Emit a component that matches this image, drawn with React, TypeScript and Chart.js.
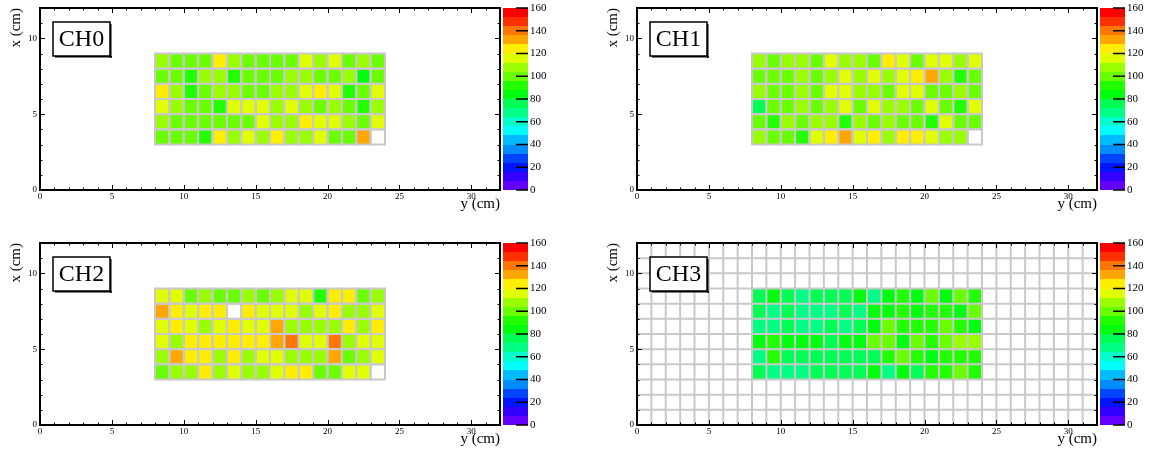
import React, { useEffect, useRef } from 'react';
import { Chart, registerables } from 'chart.js';

Chart.register(...registerables);

const SERIF = '"Liberation Serif", "Times New Roman", serif';

// ---- binning (horizontal axis "y (cm)", vertical axis "x (cm)") ----
const COL_LOW_EDGES = [8, 9, 10, 11, 12, 13, 14, 15, 16, 17, 18, 19, 20, 21, 22, 23];
const ROW_LOW_EDGES = [8, 7, 6, 5, 4, 3]; // top row first
const BIN_WIDTH = 1;

// ---- axes ----
const X_RANGE = [0, 32];
const Y_RANGE = [0, 12];
const Z_RANGE = [0, 160];
const Z_LEVELS = 20;
const X_LABEL_TICKS = [0, 5, 10, 15, 20, 25, 30];
const Y_LABEL_TICKS = [0, 5, 10];
const Z_LABEL_TICKS = [0, 20, 40, 60, 80, 100, 120, 140, 160];
const MINOR_STEP = 1;
const MAJOR_STEP = 5;

// ---- cell values (rows top -> bottom, columns left -> right); null = empty ----
const CH0_VALUES = [
  [108, 100, 100, 100, 124, 108, 100, 100, 100, 100, 116, 108, 116, 100, 108, 100],
  [100, 100, 92, 108, 108, 92, 100, 100, 100, 108, 108, 100, 100, 108, 84, 100],
  [124, 108, 92, 100, 108, 108, 100, 100, 108, 108, 116, 124, 116, 92, 100, 116],
  [116, 108, 100, 100, 92, 116, 116, 116, 108, 116, 108, 100, 108, 100, 92, 108],
  [108, 100, 100, 100, 100, 100, 100, 116, 108, 108, 124, 116, 116, 108, 100, 116],
  [100, 100, 100, 92, 124, 108, 116, 108, 124, 108, 108, 116, 100, 100, 132, null],
];
const CH1_VALUES = [
  [108, 100, 108, 108, 100, 116, 108, 108, 100, 124, 116, 100, 116, 116, 108, 116],
  [100, 100, 100, 108, 100, 108, 116, 108, 116, 108, 116, 124, 132, 108, 92, 100],
  [108, 100, 100, 108, 100, 116, 116, 108, 108, 100, 116, 116, 100, 100, 108, 100],
  [76, 100, 100, 108, 100, 108, 116, 100, 116, 108, 108, 100, 116, 100, 92, 116],
  [100, 92, 108, 100, 108, 108, 92, 108, 100, 108, 100, 100, 92, 116, 100, 100],
  [108, 100, 100, 92, 116, 124, 132, 116, 124, 108, 124, 124, 116, 108, 108, null],
];
const CH2_VALUES = [
  [116, 116, 100, 108, 100, 100, 108, 100, 108, 116, 116, 92, 124, 124, 100, 108],
  [132, 124, 116, 124, 124, null, 124, 116, 116, 116, 108, 116, 124, 108, 108, 116],
  [116, 124, 116, 108, 116, 124, 116, 116, 132, 108, 108, 108, 108, 124, 108, 124],
  [116, 108, 124, 124, 124, 124, 124, 124, 132, 140, 116, 116, 140, 108, 116, 116],
  [108, 132, 124, 124, 108, 124, 108, 116, 116, 108, 108, 108, 132, 100, 108, 116],
  [100, 108, 108, 124, 108, 116, 108, 108, 116, 124, 124, 100, 100, 116, 116, null],
];
const CH3_VALUES = [
  [76, 84, 76, 68, 76, 76, 76, 84, 68, 84, 92, 84, 100, 84, 100, 92],
  [76, 68, 76, 68, 68, 68, 76, 68, 84, 84, 92, 84, 92, 92, 84, 100],
  [68, 68, 76, 68, 68, 76, 68, 76, 84, 100, 92, 92, 92, 100, 92, 84],
  [84, 92, 84, 84, 84, 76, 84, 84, 100, 100, 84, 100, 92, 100, 108, 108],
  [68, 92, 76, 76, 76, 76, 76, 76, 76, 92, 100, 92, 84, 92, 92, 92],
  [76, 68, 68, 68, 76, 76, 76, 76, 84, 68, 84, 76, 92, 92, 100, 92],
];

const PANEL_NAMES = ['CH0', 'CH1', 'CH2', 'CH3'];

const CANVAS_W = 552;
const CANVAS_H = 217;
const GRID_COLOR = '#c9c9c9';

// ROOT "pretty palette": 50 hues from violet to red, sampled for 20 contour levels
function levelColor(k: number) {
  const nColors = 50;
  const idx = Math.floor((k + 0.99) * nColors / Z_LEVELS);
  const hue = 280 - (idx + 1) * (280 / nColors);
  return `hsl(${hue}, 100%, 50%)`;
}
function colorFor(v: number) {
  const k = Math.min(Z_LEVELS - 1, Math.max(0, Math.floor((v - Z_RANGE[0]) / (Z_RANGE[1] - Z_RANGE[0]) * Z_LEVELS)));
  return levelColor(k);
}

function zeroPad(s: any) {
  s.paddingTop = 0;
  s.paddingBottom = 0;
  s.paddingLeft = 0;
  s.paddingRight = 0;
}

function makePlugin(name: string, fullGrid: boolean) {
  return {
    id: 'heat_' + name,
    beforeDatasetsDraw(chart: any) {
      const { ctx, chartArea: a, scales } = chart;
      const xs = scales.x, ys = scales.y;
      ctx.save();
      ctx.fillStyle = '#ffffff';
      ctx.fillRect(a.left, a.top, a.right - a.left, a.bottom - a.top);
      ctx.beginPath();
      ctx.rect(a.left, a.top, a.right - a.left, a.bottom - a.top);
      ctx.clip();
      const pts = chart.data.datasets[0].data as any[];
      for (const p of pts) {
        if (p.v == null) continue;
        const x0 = xs.getPixelForValue(p.x - BIN_WIDTH / 2);
        const x1 = xs.getPixelForValue(p.x + BIN_WIDTH / 2);
        const y0 = ys.getPixelForValue(p.y + BIN_WIDTH / 2);
        const y1 = ys.getPixelForValue(p.y - BIN_WIDTH / 2);
        ctx.fillStyle = colorFor(p.v);
        ctx.fillRect(x0, y0, x1 - x0, y1 - y0);
      }
      ctx.strokeStyle = GRID_COLOR;
      ctx.lineWidth = 2;
      if (fullGrid) {
        ctx.beginPath();
        for (let v = X_RANGE[0]; v <= X_RANGE[1]; v += BIN_WIDTH) {
          const px = xs.getPixelForValue(v);
          ctx.moveTo(px, a.top);
          ctx.lineTo(px, a.bottom);
        }
        for (let v = Y_RANGE[0]; v <= Y_RANGE[1]; v += BIN_WIDTH) {
          const py = ys.getPixelForValue(v);
          ctx.moveTo(a.left, py);
          ctx.lineTo(a.right, py);
        }
        ctx.stroke();
      } else {
        for (const p of pts) {
          const x0 = xs.getPixelForValue(p.x - BIN_WIDTH / 2);
          const x1 = xs.getPixelForValue(p.x + BIN_WIDTH / 2);
          const y0 = ys.getPixelForValue(p.y + BIN_WIDTH / 2);
          const y1 = ys.getPixelForValue(p.y - BIN_WIDTH / 2);
          ctx.strokeRect(x0, y0, x1 - x0, y1 - y0);
        }
      }
      ctx.restore();
    },
    afterDraw(chart: any) {
      const { ctx, chartArea: a, scales } = chart;
      const xs = scales.x, ys = scales.y, zs = scales.z;
      ctx.save();
      // ticks on all four sides
      ctx.strokeStyle = '#000';
      ctx.lineWidth = 1;
      ctx.beginPath();
      const MAJ = 5, MIN = 2.5;
      for (let v = X_RANGE[0]; v <= X_RANGE[1]; v += MINOR_STEP) {
        const px = Math.round(xs.getPixelForValue(v)) + 0.5;
        const len = v % MAJOR_STEP === 0 ? MAJ : MIN;
        ctx.moveTo(px, a.bottom); ctx.lineTo(px, a.bottom - len);
        ctx.moveTo(px, a.top); ctx.lineTo(px, a.top + len);
      }
      for (let v = Y_RANGE[0]; v <= Y_RANGE[1]; v += MINOR_STEP) {
        const py = Math.round(ys.getPixelForValue(v)) + 0.5;
        const len = v % MAJOR_STEP === 0 ? MAJ : MIN;
        ctx.moveTo(a.left, py); ctx.lineTo(a.left + len, py);
        ctx.moveTo(a.right, py); ctx.lineTo(a.right - len, py);
      }
      ctx.stroke();
      // frame
      ctx.lineWidth = 2;
      ctx.strokeRect(a.left, a.top, a.right - a.left, a.bottom - a.top);
      // palette
      const pl = a.right + 3, pr = a.right + 28;
      const step = (Z_RANGE[1] - Z_RANGE[0]) / Z_LEVELS;
      for (let k = 0; k < Z_LEVELS; k++) {
        const yTop = Math.round(zs.getPixelForValue(Z_RANGE[0] + (k + 1) * step));
        const yBot = Math.round(zs.getPixelForValue(Z_RANGE[0] + k * step));
        ctx.fillStyle = levelColor(k);
        ctx.fillRect(pl, yTop, pr - pl, yBot - yTop);
      }
      ctx.lineWidth = 1.5;
      ctx.beginPath();
      for (const v of Z_LABEL_TICKS) {
        const py = zs.getPixelForValue(v);
        ctx.moveTo(pr, py); ctx.lineTo(pr - 12, py);
      }
      ctx.stroke();
      // label box
      const bx = a.left + 13, by = a.top + 14, bw = 57, bh = 34;
      ctx.fillStyle = '#fff';
      ctx.fillRect(bx, by, bw, bh);
      ctx.fillStyle = '#000';
      ctx.fillRect(bx + 2, by + bh, bw, 1.5);
      ctx.fillRect(bx + bw, by + 2, 1.5, bh);
      ctx.lineWidth = 1.5;
      ctx.strokeStyle = '#000';
      ctx.strokeRect(bx, by, bw, bh);
      ctx.font = `24px ${SERIF}`;
      ctx.textAlign = 'center';
      ctx.textBaseline = 'middle';
      ctx.fillText(name, bx + bw / 2, by + bh / 2 + 1);
      ctx.restore();
    },
  };
}

function Panel({ name, values, fullGrid, left, top }: { name: string; values: (number | null)[][]; fullGrid: boolean; left: number; top: number }) {
  const ref = useRef<HTMLCanvasElement>(null);
  useEffect(() => {
    const points: any[] = [];
    ROW_LOW_EDGES.forEach((rowLow, r) =>
      COL_LOW_EDGES.forEach((colLow, c) => {
        points.push({ x: colLow + BIN_WIDTH / 2, y: rowLow + BIN_WIDTH / 2, v: values[r][c] });
      })
    );
    const tickFont = { family: SERIF, size: 9 };
    const chart = new Chart(ref.current as HTMLCanvasElement, {
      type: 'scatter',
      data: { datasets: [{ data: points, pointRadius: 0, pointHoverRadius: 0, showLine: false }] },
      options: {
        animation: false,
        responsive: false,
        devicePixelRatio: 1,
        events: [],
        layout: { padding: { left: 0, top: 8, right: 0, bottom: 0 }, autoPadding: false },
        plugins: { legend: { display: false }, tooltip: { enabled: false }, title: { display: false } },
        scales: {
          x: {
            type: 'linear',
            position: 'bottom',
            min: X_RANGE[0],
            max: X_RANGE[1],
            grid: { display: false, drawTicks: false },
            border: { display: false },
            afterBuildTicks: (s: any) => { s.ticks = X_LABEL_TICKS.map((v) => ({ value: v })); },
            afterFit: (s: any) => { s.height = CANVAS_H - 190; zeroPad(s); },
            ticks: { autoSkip: false, maxRotation: 0, padding: 1, color: '#000', font: tickFont },
            title: { display: true, text: 'y (cm)', align: 'end', color: '#000', font: { family: SERIF, size: 15 }, padding: { top: 0, bottom: 4 } },
          },
          y: {
            type: 'linear',
            position: 'left',
            min: Y_RANGE[0],
            max: Y_RANGE[1],
            grid: { display: false, drawTicks: false },
            border: { display: false },
            afterBuildTicks: (s: any) => { s.ticks = Y_LABEL_TICKS.map((v) => ({ value: v })); },
            afterFit: (s: any) => { s.width = 40; zeroPad(s); },
            ticks: { autoSkip: false, padding: 3, color: '#000', font: tickFont },
            title: { display: true, text: 'x (cm)', align: 'end', color: '#000', font: { family: SERIF, size: 15 }, padding: { top: 7, bottom: 0 } },
          },
          z: {
            type: 'linear',
            axis: 'y',
            position: 'right',
            min: Z_RANGE[0],
            max: Z_RANGE[1],
            grid: { display: false, drawTicks: false },
            border: { display: false },
            afterBuildTicks: (s: any) => { s.ticks = Z_LABEL_TICKS.map((v) => ({ value: v })); },
            afterFit: (s: any) => { s.width = 52; zeroPad(s); },
            ticks: { autoSkip: false, padding: 30, color: '#000', font: { family: SERIF, size: 11 } },
          },
        },
      } as any,
      plugins: [makePlugin(name, fullGrid)],
    });
    return () => chart.destroy();
  }, []);
  return (
    <canvas
      ref={ref}
      width={CANVAS_W}
      height={CANVAS_H}
      style={{ position: 'absolute', left, top, width: CANVAS_W, height: CANVAS_H }}
    />
  );
}

export default function App() {
  const data = [CH0_VALUES, CH1_VALUES, CH2_VALUES, CH3_VALUES];
  const lefts = [0, 597, 0, 597];
  const tops = [0, 0, 235, 235];
  return (
    <div style={{ position: 'absolute', left: 0, top: 0, width: 1149, height: 452, overflow: 'hidden', background: '#fff' }}>
      {PANEL_NAMES.map((n, i) => (
        <Panel key={n} name={n} values={data[i]} fullGrid={i === 3} left={lefts[i]} top={tops[i]} />
      ))}
    </div>
  );
}
